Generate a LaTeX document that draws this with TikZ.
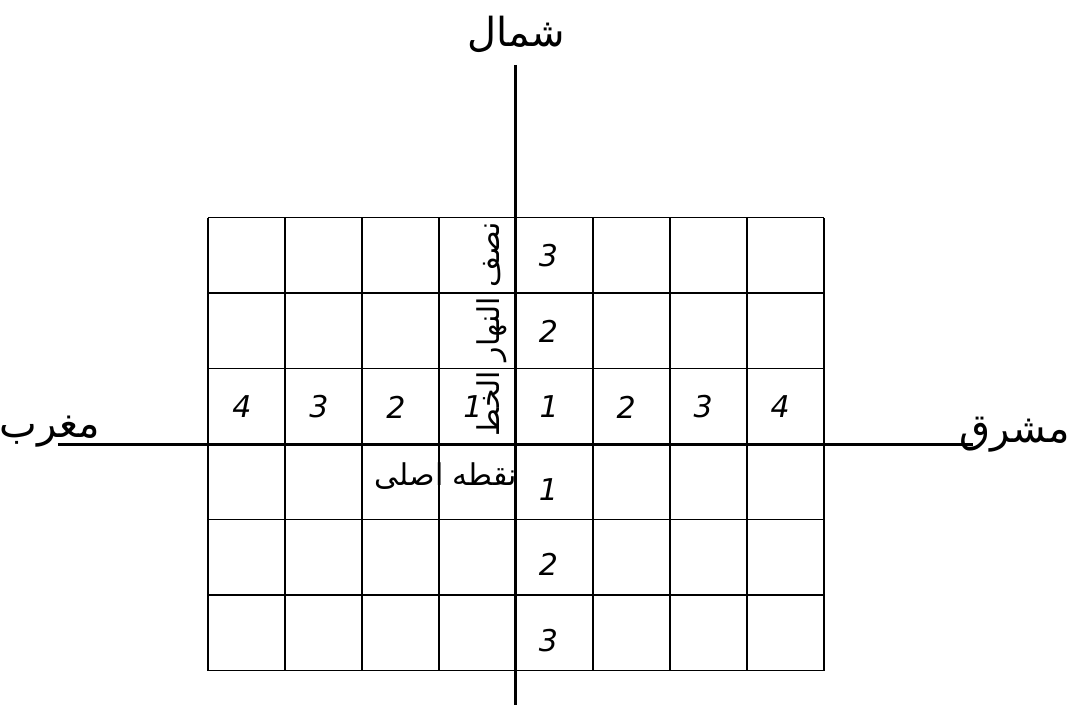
\documentclass[tikz,border=0pt]{standalone}
\usepackage{fontspec}
\newfontfamily\arabicfont[Script=Arabic]{DejaVu Sans}
\newfontfamily\digitfont{DejaVu Sans}
\TeXXeTstate=1

\begin{document}
\begin{tikzpicture}[x=38.5pt,y=37.75pt,
                    num/.style={font=\digitfont\itshape\fontsize{15}{18}\selectfont},
                    lbl/.style={font=\arabicfont\fontsize{20}{24}\selectfont}]
  \useasboundingbox (-6.701,-3.457) rectangle (7.156,5.881);
  % grid of squares
  \draw[line width=0.9pt,xstep=38.5pt,ystep=37.75pt] (-4,-3) grid (4,3);
  % axes
  \coordinate (N) at (0,5.02);
  \coordinate (S) at (0,-3.457);
  \coordinate (W) at (-5.95,0);
  \coordinate (E) at (5.94,0);
  \draw[line width=1.5pt] (N) -- (S);
  \draw[line width=1.5pt] (W) -- (E);
  % direction labels
  \node[lbl] (shomal) at (0,5.42) {\beginR شمال\endR};
  \node[lbl] (maghreb) at (-6.05,0.16) {\beginR مغرب\endR};
  \node[lbl] (mashregh) at (6.48,0.12) {\beginR مشرق\endR};
  \node[lbl,rotate=90,anchor=south,font=\arabicfont\fontsize{15}{18}\selectfont]
    (nesf) at (-0.03,1.52) {\beginR نصف النهار الخط\endR};
  \node[lbl,font=\arabicfont\fontsize{15}{18}\selectfont]
    (mabda) at (-0.91,-0.42) {\beginR نقطه اصلی\endR};
  % numbers
  \foreach \i in {1,2,3,4} {
    \node[num] (e\i) at (\i-0.57,0.49) {\i};
    \node[num] (w\i) at (-\i+0.44,0.49) {\i};
  }
  \foreach \i in {2,3} {
    \node[num] (n\i) at (0.42,\i-0.51) {\i};
  }
  \foreach \i in {1,2,3} {
    \node[num] (s\i) at (0.42,-\i+0.4) {\i};
  }
\end{tikzpicture}
\end{document}
